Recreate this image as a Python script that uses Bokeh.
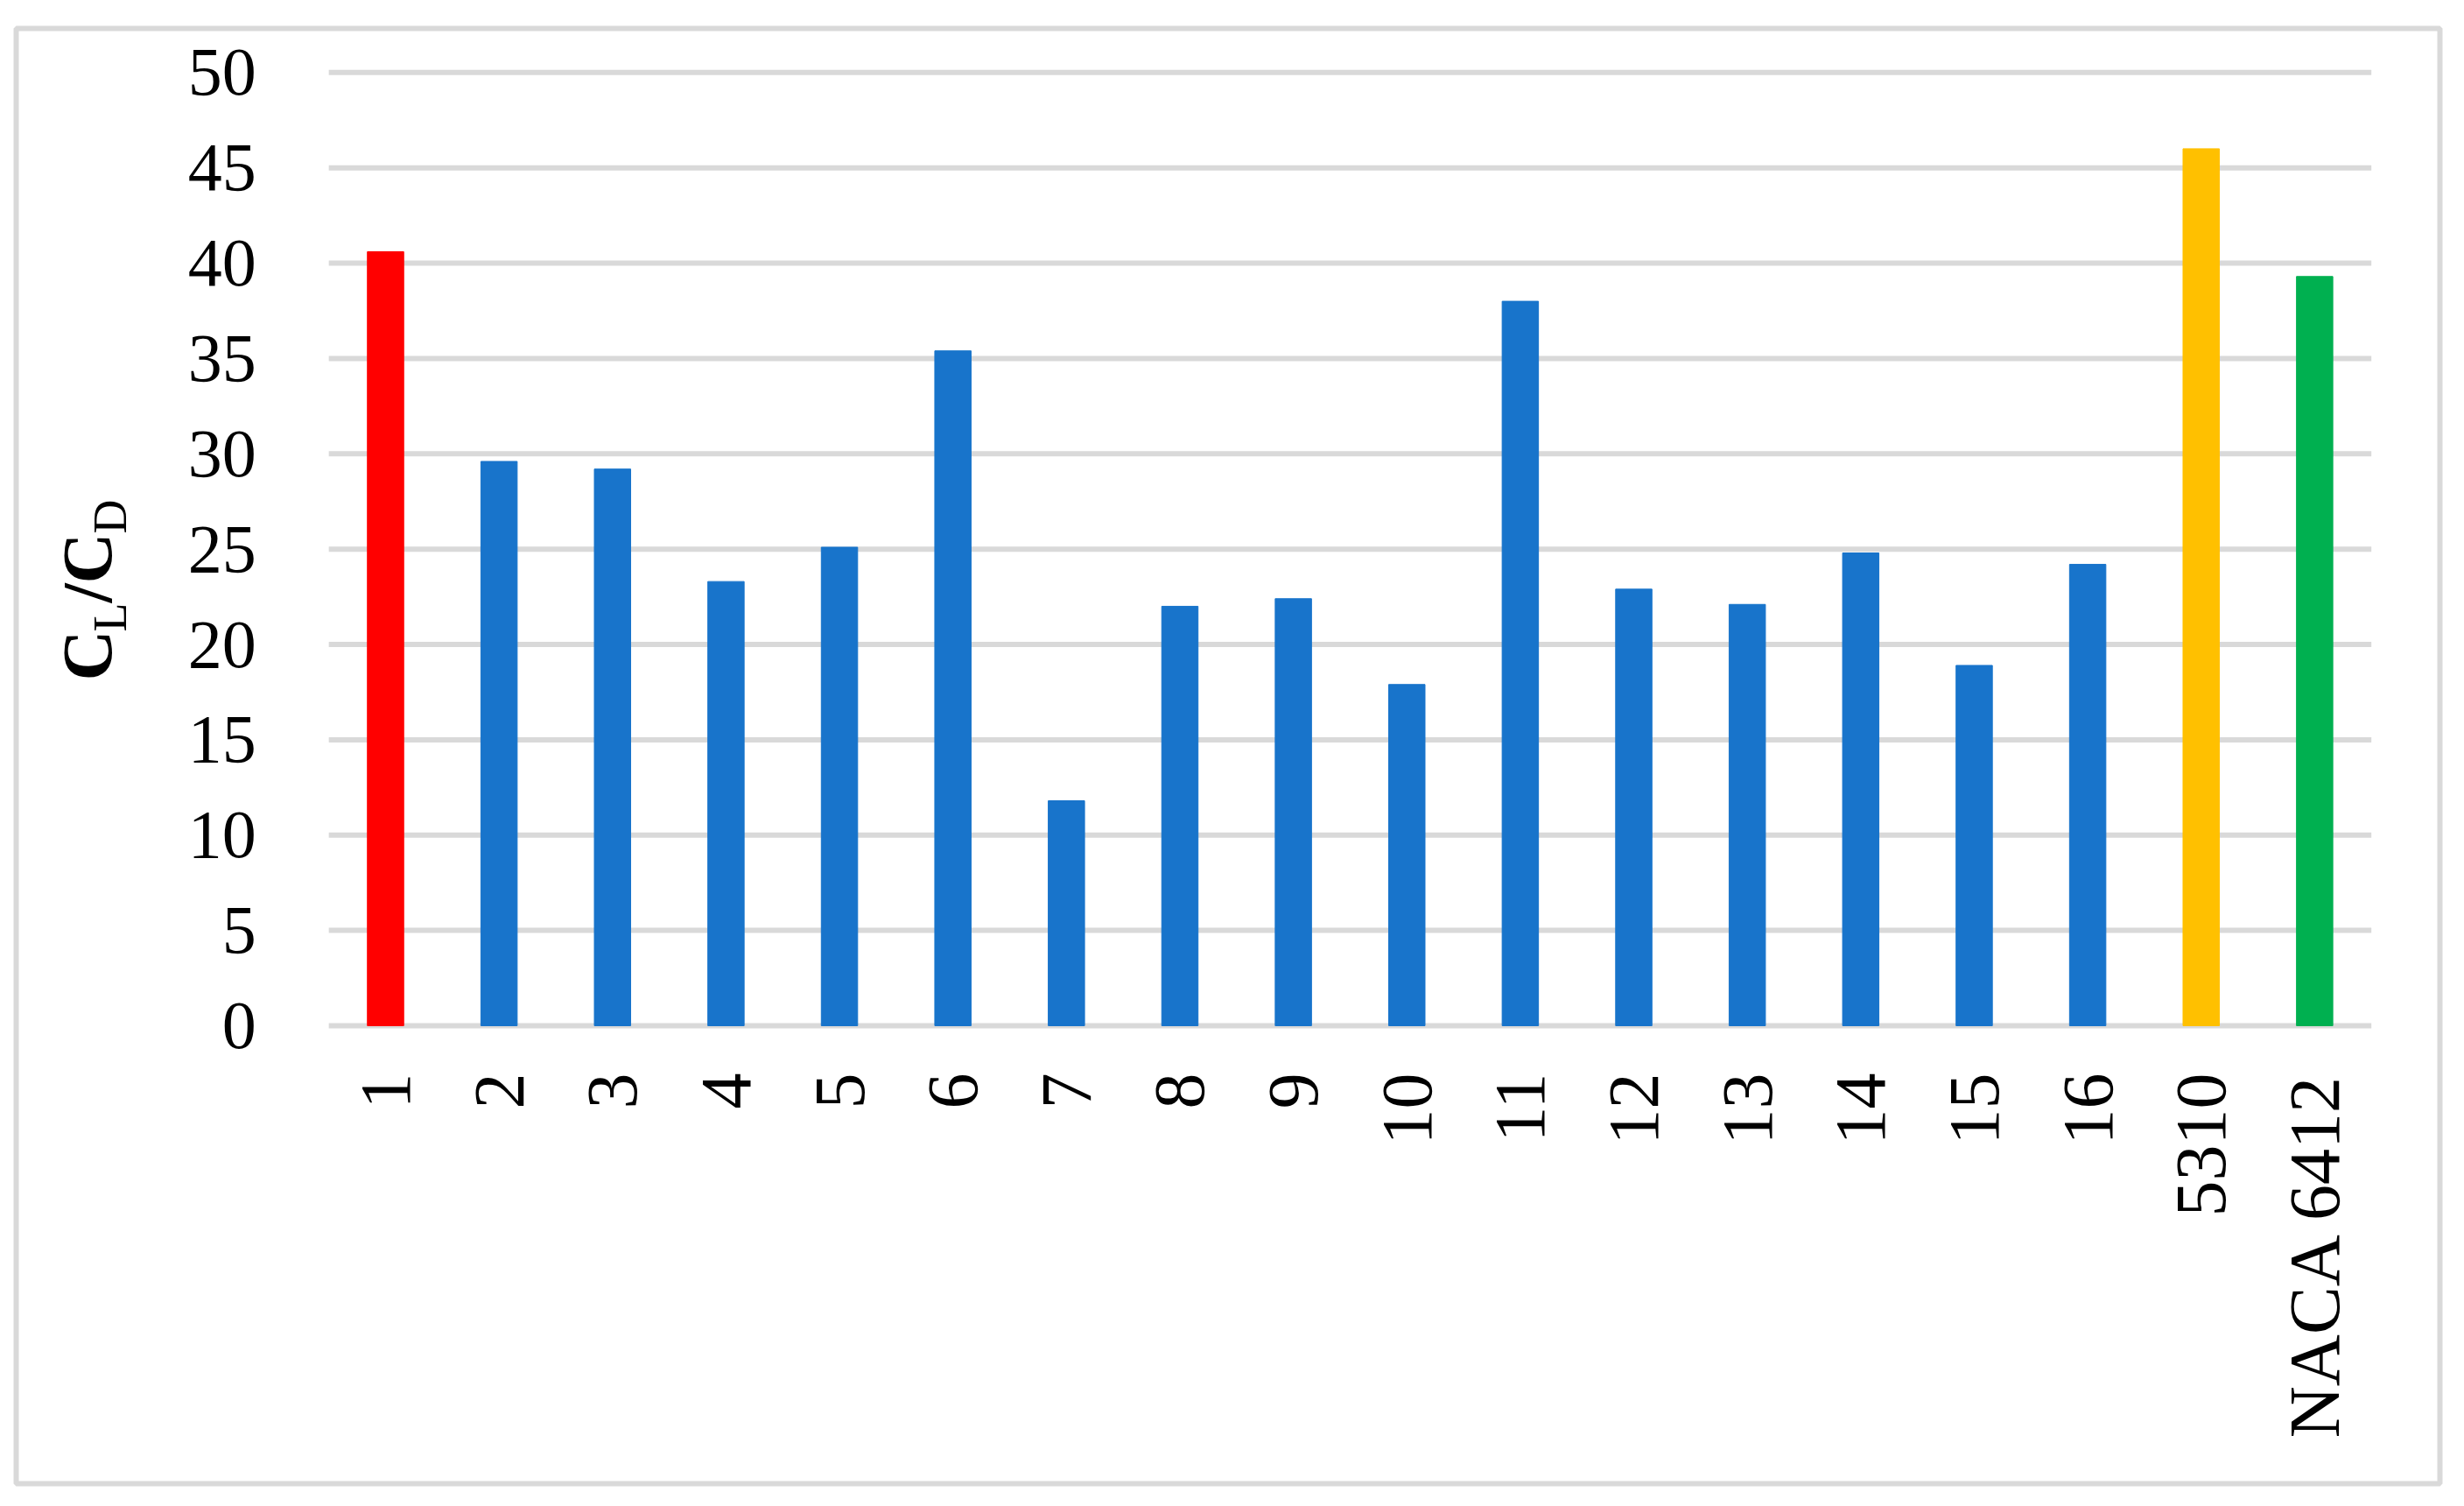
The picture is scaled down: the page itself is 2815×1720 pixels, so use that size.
import math
from bokeh.plotting import figure
from bokeh.models import Range1d, Label, ColumnDataSource, FixedTicker
from bokeh.embed import file_html
from bokeh.resources import INLINE

categories = ["1", "2", "3", "4", "5", "6", "7", "8", "9", "10", "11", "12",
              "13", "14", "15", "16", "5310", "NACA 6412"]
cl_cd = [40.6, 29.6, 29.2, 23.3, 25.1, 35.4, 11.8, 22.0, 22.4, 17.9, 38.0,
         22.9, 22.1, 24.8, 18.9, 24.2, 46.0, 39.3]
bar_colors = ["#FF0000"] + ["#1874CB"] * 15 + ["#FFC000", "#00B050"]
y_ticks = [0, 5, 10, 15, 20, 25, 30, 35, 40, 45, 50]

FONT = "Liberation Serif"
GRID = "#D9D9D9"

positions = list(range(1, len(categories) + 1))
src = ColumnDataSource(dict(x=positions, val=cl_cd, color=bar_colors))

# The plot frame covers the whole bordered area; axes are pinned inside it.
p = figure(x_range=Range1d(-2.255, 19.104),
           y_range=Range1d(-24.02, 52.31),
           width=2797, height=1702,
           output_backend="svg", toolbar_location=None,
           min_border_left=18, min_border_right=10,
           min_border_top=32, min_border_bottom=8)

p.background_fill_color = "white"
p.border_fill_color = "white"
p.outline_line_color = GRID
p.outline_line_width = 6
p.xgrid.visible = False
p.ygrid.visible = False

# horizontal gridlines spanning the category area
n = len(categories)
p.segment(x0=[0.5] * len(y_ticks), x1=[n + 0.5] * len(y_ticks),
          y0=y_ticks, y1=y_ticks, line_color=GRID, line_width=6)

p.vbar(x="x", top="val", bottom=0, width=0.32, color="color", source=src)

# y axis pinned at the left edge of the category area
yax = p.yaxis[0]
yax.fixed_location = 0.5
yax.ticker = FixedTicker(ticks=y_ticks)
yax.axis_line_color = None
yax.major_tick_line_color = None
yax.minor_tick_line_color = None
yax.major_tick_in = 0
yax.major_tick_out = 0
yax.minor_tick_in = 0
yax.minor_tick_out = 0
yax.major_label_text_font = FONT
yax.major_label_text_font_size = "78px"
yax.major_label_text_color = "black"
yax.major_label_standoff = 83

# x axis pinned at y = 0
xax = p.xaxis[0]
xax.fixed_location = 0
xax.ticker = FixedTicker(ticks=positions)
xax.major_label_overrides = {pos: name for pos, name in zip(positions, categories)}
xax.axis_line_color = None
xax.major_tick_line_color = None
xax.minor_tick_line_color = None
xax.major_tick_in = 0
xax.major_tick_out = 0
xax.minor_tick_in = 0
xax.minor_tick_out = 0
xax.major_label_orientation = math.pi / 2
xax.major_label_text_font = FONT
xax.major_label_text_font_size = "82px"
xax.major_label_text_color = "black"
xax.major_label_standoff = 54

# y-axis title C_L / C_D built from pieces (subscripts)
pieces = [
    ("C", -1.630, 18.09, "80px", "bold"),
    ("L", -1.424, 20.67, "54px", "normal"),
    ("/", -1.630, 22.18, "80px", "bold"),
    ("C", -1.630, 23.19, "80px", "bold"),
    ("D", -1.424, 25.81, "54px", "normal"),
]
for txt, x, y, size, style in pieces:
    p.add_layout(Label(x=x, y=y, text=txt,
                       angle=math.pi / 2, text_align="left",
                       text_baseline="middle", text_font=FONT,
                       text_font_size=size, text_font_style=style,
                       text_color="black"))

open("out.html", "w").write(file_html(p, INLINE))
